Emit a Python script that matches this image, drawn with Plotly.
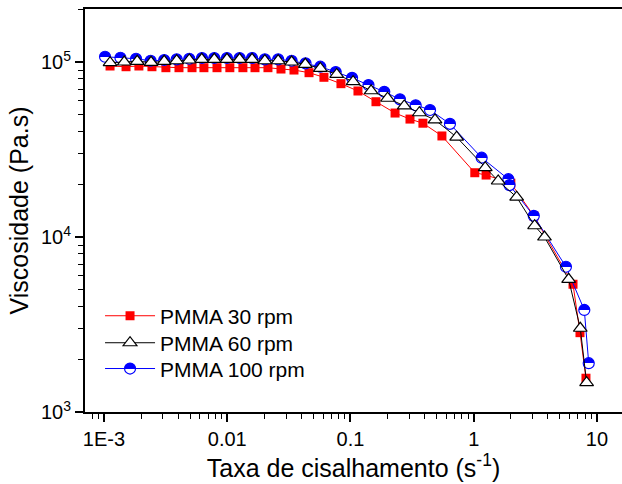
import plotly.graph_objects as go

# Shear rate (1/s) and viscosity (Pa.s) for each screw speed
shear_30 = [1.12e-3, 1.51e-3, 1.92e-3, 2.45e-3, 3.18e-3, 4.06e-3, 5.18e-3, 6.47e-3,
            8.26e-3, 1.05e-2, 1.34e-2, 1.68e-2, 2.14e-2, 2.73e-2, 3.48e-2, 4.61e-2,
            6.09e-2, 8.37e-2, 0.115, 0.161, 0.230, 0.304, 0.387, 0.552, 1.02, 1.26,
            2.0, 3.08, 6.39, 7.28, 8.14]
visc_30 = [94900, 94000, 94900, 94000, 92800, 92800, 92800, 92800, 92800, 92800,
           92800, 92800, 92800, 91200, 90000, 86900, 81800, 75200, 68300, 59300,
           51100, 47200, 44700, 37800, 23300, 22600, 20300, 13200, 5370, 2840, 1560]

shear_60 = [1.12e-3, 1.46e-3, 1.86e-3, 2.41e-3, 3.08e-3, 3.89e-3, 4.92e-3, 6.21e-3,
            7.85e-3, 9.95e-3, 1.26e-2, 1.59e-2, 2.02e-2, 2.59e-2, 3.33e-2, 4.30e-2,
            5.69e-2, 7.73e-2, 0.105, 0.147, 0.200, 0.273, 0.362, 0.485, 0.727, 1.24,
            1.58, 2.23, 3.12, 3.75, 5.89, 7.32, 8.24]
visc_60 = [99100, 100000, 100900, 99600, 100900, 101700, 102700, 103600, 103600,
           103600, 103600, 103600, 101700, 101700, 100000, 97000, 92000, 85000, 77200,
           68500, 62100, 56100, 51300, 46700, 37200, 24900, 20900, 16900, 11600, 10000,
           5730, 3010, 1470]

shear_100 = [1.02e-3, 1.36e-3, 1.82e-3, 2.39e-3, 3.08e-3, 3.89e-3, 4.92e-3, 6.24e-3,
             7.85e-3, 9.95e-3, 1.26e-2, 1.59e-2, 2.02e-2, 2.59e-2, 3.33e-2, 4.32e-2,
             5.69e-2, 7.59e-2, 0.103, 0.140, 0.188, 0.252, 0.338, 0.442, 0.641, 1.16,
             1.91, 1.95, 3.07, 5.60, 7.89, 8.57]
visc_100 = [107200, 105800, 104400, 101700, 102700, 103600, 104400, 105400, 105400,
            105400, 105400, 105400, 103600, 103600, 101700, 98300, 94000, 87700, 81200,
            73900, 67600, 61200, 56600, 53200, 44300, 28400, 21400, 19800, 13200, 6760,
            3830, 1900]

x_tickvals = [1e-3, 1e-2, 1e-1, 1, 10]
x_ticktext = ["1E-3", "0.01", "0.1", "1", "10"]
y_tickvals = [1e3, 1e4, 1e5]
y_ticktext = ["10<sup>3</sup>", "10<sup>4</sup>", "10<sup>5</sup>"]

FONT = "Liberation Sans, Arial, sans-serif"

fig = go.Figure()

fig.add_trace(go.Scatter(
    x=shear_30, y=visc_30, mode="lines+markers", name="PMMA 30 rpm",
    legend="legend",
    line=dict(color="#ff0000", width=1),
    marker=dict(symbol="square", size=9, color="#ff0000",
                line=dict(width=0)),
))
fig.add_trace(go.Scatter(
    x=shear_100, y=visc_100, mode="lines+markers", name="PMMA 100 rpm",
    legend="legend3",
    line=dict(color="#0000ff", width=1),
    marker=dict(symbol="circle", size=11, color="#0000ff",
                gradient=dict(type="vertical", color="#ffffff"),
                line=dict(color="#0000ff", width=1.2)),
))
fig.add_trace(go.Scatter(
    x=shear_60, y=visc_60, mode="lines+markers", name="PMMA 60 rpm",
    legend="legend2",
    line=dict(color="#000000", width=1),
    marker=dict(symbol="triangle-up", size=12, color="#ffffff",
                line=dict(color="#000000", width=1.2)),
))

axis_common = dict(
    showgrid=False, zeroline=False,
    showline=True, linecolor="#000000", linewidth=2,
    ticks="outside", ticklen=8, tickwidth=1.5, tickcolor="#000000",
    tickfont=dict(family=FONT, size=20, color="#000000"),
)

fig.update_xaxes(
    type="log", range=[-3.154, 1.203],
    tickvals=x_tickvals, ticktext=x_ticktext,
    mirror=True,
    minor=dict(ticks="outside", ticklen=5, tickwidth=1.2, tickcolor="#000000",
               dtick="D1", showgrid=False),
    title=dict(text="Taxa de cisalhamento (s<sup>-1</sup>)",
               font=dict(family=FONT, size=25, color="#000000"), standoff=7),
    **axis_common,
)
fig.update_yaxes(
    type="log", range=[3, 5.303],
    tickvals=y_tickvals, ticktext=y_ticktext,
    minor=dict(ticks="outside", ticklen=5, tickwidth=1.2, tickcolor="#000000",
               dtick="D1", showgrid=False),
    title=dict(text="Viscosidade (Pa.s)",
               font=dict(family=FONT, size=25, color="#000000"), standoff=5),
    **axis_common,
)


def legend_box(ypos):
    return dict(
        x=0.028, y=ypos, xanchor="left", yanchor="middle",
        bgcolor="rgba(0,0,0,0)", borderwidth=0,
        font=dict(family=FONT, size=21, color="#000000"),
        itemwidth=50,
    )


fig.update_layout(
    width=622, height=484,
    margin=dict(l=85, r=0, t=9, b=72),
    paper_bgcolor="#ffffff", plot_bgcolor="#ffffff",
    font=dict(family=FONT, color="#000000"),
    legend=legend_box(0.238),
    legend2=legend_box(0.171),
    legend3=legend_box(0.107),
    showlegend=True,
)

# Turn the smooth vertical gradient into a hard split: blue top half, white bottom half
half_fill_js = """
document.querySelectorAll('linearGradient').forEach(function (g) {
    var stops = g.querySelectorAll('stop');
    if (stops.length === 2) {
        stops[0].setAttribute('offset', '50%');
        stops[1].setAttribute('offset', '50%');
    }
});
"""

fig.write_html("out.html", post_script=half_fill_js)
